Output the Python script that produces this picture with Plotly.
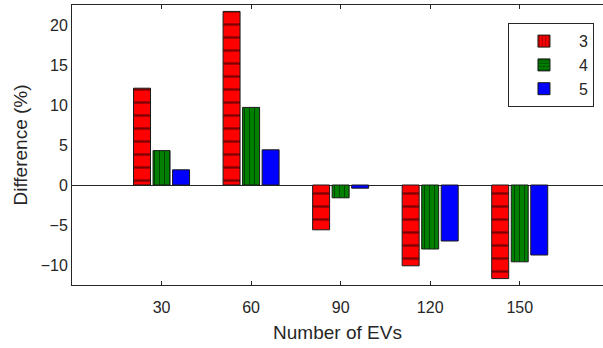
import plotly.graph_objects as go

categories = ['30', '60', '90', '120', '150']
series_names = ['3', '4', '5']
values_3 = [12.1, 21.7, -5.6, -10.1, -11.7]
values_4 = [4.3, 9.7, -1.6, -8.0, -9.6]
values_5 = [1.9, 4.4, -0.4, -7.0, -8.75]
y_tickvals = [-10, -5, 0, 5, 10, 15, 20]

colors = ['#ff0000', '#007f00', '#0000ff']
bar_shapes = ['-', '|', '']
bar_sizes = [13, 5, 8]
legend_shapes = ['|', '-', '']
legend_sizes = [4, 4, 8]
all_values = [values_3, values_4, values_5]

fig = go.Figure()
for i, (name, vals) in enumerate(zip(series_names, all_values)):
    fig.add_trace(go.Bar(
        x=categories, y=vals, name=name, showlegend=False,
        offsetgroup=str(i), hoverinfo='skip',
        marker=dict(color=colors[i], line=dict(color='#1a1a1a', width=1),
                    pattern=dict(shape=bar_shapes[i], size=bar_sizes[i],
                                 solidity=0.18, fgcolor='#000000')),
    ))
for i, name in enumerate(series_names):
    fig.add_trace(go.Bar(
        x=[None], y=[None], name=name, showlegend=True,
        offsetgroup=str(i),
        marker=dict(color=colors[i], line=dict(color='#1a1a1a', width=1),
                    pattern=dict(shape=legend_shapes[i], size=legend_sizes[i],
                                 solidity=0.25, fgcolor='#000000')),
    ))

axis_color = '#262626'
font_family = 'Liberation Sans, Arial, sans-serif'
fig.update_layout(
    width=603, height=348,
    margin=dict(l=72, r=0, t=5, b=63),
    paper_bgcolor='white', plot_bgcolor='white',
    barmode='group', bargap=0.346, bargroupgap=0.13,
    font=dict(family=font_family, size=16, color=axis_color),
    showlegend=True,
    legend=dict(x=0.983, y=0.935, xanchor='right', yanchor='top',
                bordercolor=axis_color, borderwidth=1, bgcolor='white',
                font=dict(size=16, color=axis_color), traceorder='normal',
                itemwidth=60, tracegroupgap=2),
    xaxis=dict(
        type='category', categoryorder='array', categoryarray=categories,
        range=[-1, 4.93], showgrid=False, showline=True, linecolor=axis_color,
        linewidth=1, mirror='ticks', ticks='inside', ticklen=4, tickcolor=axis_color,
        automargin=False, ticklabelstandoff=8,
        title=dict(text='Number of EVs', font=dict(size=19, color=axis_color), standoff=10),
        tickfont=dict(size=16, color=axis_color),
    ),
    yaxis=dict(
        range=[-12.5, 22.5], tickvals=y_tickvals, showgrid=False,
        showline=True, linecolor=axis_color, linewidth=1, mirror=False,
        ticks='', zeroline=True, zerolinecolor=axis_color, zerolinewidth=1,
        automargin=False,
        title=dict(text='Difference (%)', font=dict(size=19, color=axis_color), standoff=8),
        tickfont=dict(size=16, color=axis_color),
    ),
)

fig.write_html('out.html', config={'displayModeBar': False},
               post_script="document.body.style.margin='0';document.body.style.overflow='hidden';")
